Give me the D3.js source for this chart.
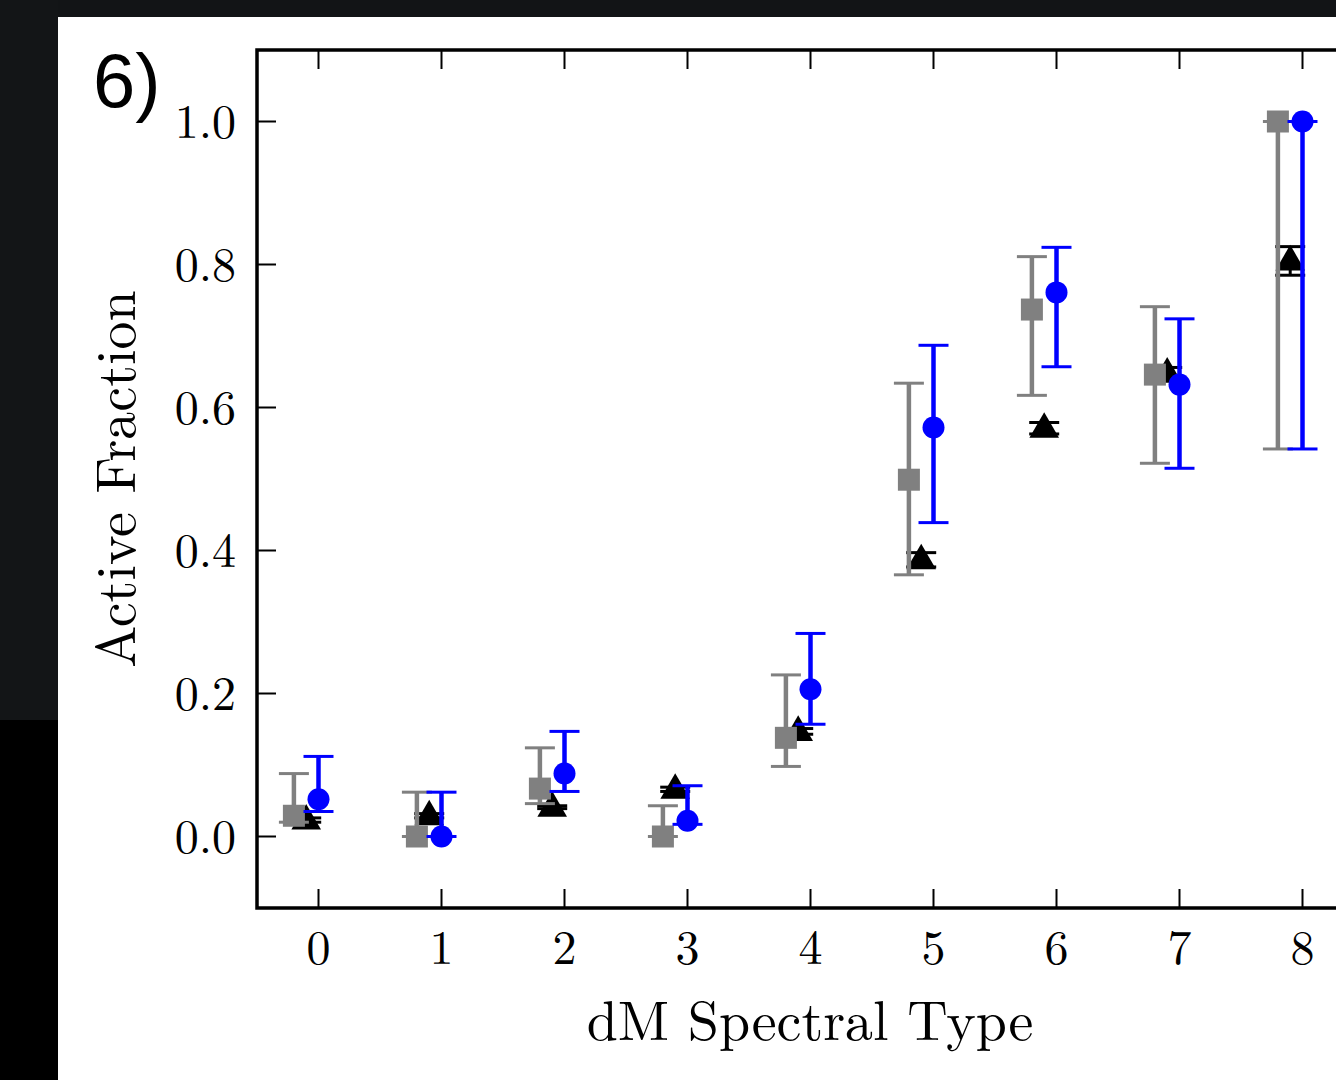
<!DOCTYPE html>
<html>
<head>
<meta charset="utf-8">
<script src="https://cdn.jsdelivr.net/npm/d3@7"></script>
<style>
  body { margin: 0; background: #000; }
  svg { display: block; }
  .tick-label { font-family: 'Latin Modern Roman', 'CMU Serif', 'Liberation Serif', serif; font-size: 48px; fill: #000; }
  .axis-title { font-family: 'Latin Modern Roman', 'CMU Serif', 'Liberation Serif', serif; font-size: 56px; fill: #000; }
</style>
</head>
<body>
<svg id="svg" width="1336" height="1080"></svg>
<script>
// spectral types (x) and tick labels
const types = [0, 1, 2, 3, 4, 5, 6, 7, 8]
const xTicks = [0, 1, 2, 3, 4, 5, 6, 7, 8]
const yTicks = [0.0, 0.2, 0.4, 0.6, 0.8, 1.0]

// gray squares
const grayVal = [0.029, 0.0, 0.067, 0.0, 0.138, 0.499, 0.737, 0.646, 1.0]
const grayLo = [0.020, 0.0, 0.046, 0.0, 0.098, 0.366, 0.617, 0.522, 0.542]
const grayHi = [0.088, 0.062, 0.124, 0.043, 0.226, 0.634, 0.811, 0.741, 1.0]

// blue circles
const blueVal = [0.052, 0.0, 0.088, 0.022, 0.206, 0.572, 0.761, 0.632, 1.0]
const blueLo = [0.035, 0.0, 0.063, 0.017, 0.157, 0.439, 0.657, 0.515, 0.542]
const blueHi = [0.112, 0.062, 0.147, 0.071, 0.284, 0.687, 0.824, 0.724, 1.0]

// black triangles
const blackVal = [0.023, 0.029, 0.041, 0.066, 0.147, 0.387, 0.571, 0.648, 0.805]
const blackErr = [0.003, 0.003, 0.002, 0.003, 0.004, 0.010, 0.008, 0.008, 0.020]

const svg = d3.select('svg')

// dark surroundings of the slide
svg.append('rect').attr('width', 1336).attr('height', 1080).attr('fill', '#000')
svg.append('rect').attr('width', 1336).attr('height', 17).attr('fill', '#121416')
svg.append('rect').attr('width', 58).attr('height', 720).attr('fill', '#131517')
svg.append('rect').attr('x', 58).attr('y', 17).attr('width', 1278).attr('height', 1063).attr('fill', '#fff')

const L = 257
const T = 50
const B = 908
const R = 1364

const x = d3.scaleLinear().domain([-0.5, 8.5]).range([L, R])
const y = d3.scaleLinear().domain([-0.1, 1.1]).range([B, T])

// panel label
svg.append('text')
  .attr('x', 93).attr('y', 107)
  .attr('font-family', 'Liberation Sans, Arial, sans-serif')
  .attr('font-size', 76)
  .text('6)')

// ticks (inside, on all sides)
const TL = 19
const g = svg.append('g')
xTicks.forEach(t => {
  g.append('line').attr('x1', x(t)).attr('x2', x(t)).attr('y1', B).attr('y2', B - TL).attr('stroke', '#000').attr('stroke-width', 2)
  g.append('line').attr('x1', x(t)).attr('x2', x(t)).attr('y1', T).attr('y2', T + TL).attr('stroke', '#000').attr('stroke-width', 2)
  g.append('text').attr('class', 'tick-label').attr('x', x(t)).attr('y', 964).attr('text-anchor', 'middle').text(t)
})
yTicks.forEach(t => {
  g.append('line').attr('x1', L).attr('x2', L + TL).attr('y1', y(t)).attr('y2', y(t)).attr('stroke', '#000').attr('stroke-width', 2)
  g.append('text').attr('class', 'tick-label').attr('x', 236).attr('y', y(t) + 16).attr('text-anchor', 'end').text(t.toFixed(1))
})

// frame
svg.append('path')
  .attr('d', `M${R},${T}H${L}V${B}H${R}`)
  .attr('fill', 'none').attr('stroke', '#000').attr('stroke-width', 3.5)

// error bars helper
function errBars (off, lo, hi, color, lw, cap) {
  const eg = svg.append('g').attr('stroke', color).attr('stroke-width', lw)
  types.forEach((t, i) => {
    const cx = x(t + off)
    eg.append('line').attr('x1', cx).attr('x2', cx).attr('y1', y(lo[i])).attr('y2', y(hi[i]))
    eg.append('line').attr('x1', cx - cap).attr('x2', cx + cap).attr('y1', y(lo[i])).attr('y2', y(lo[i])).attr('stroke-width', 3)
    eg.append('line').attr('x1', cx - cap).attr('x2', cx + cap).attr('y1', y(hi[i])).attr('y2', y(hi[i])).attr('stroke-width', 3)
  })
}

// triangles first
errBars(-0.1, blackVal.map((v, i) => v - blackErr[i]), blackVal.map((v, i) => v + blackErr[i]), '#000', 3, 15)
svg.append('g').selectAll('path').data(types).join('path')
  .attr('d', d3.symbol(d3.symbolTriangle, 380)())
  .attr('transform', (t, i) => `translate(${x(t - 0.1)},${y(blackVal[i]) + 1})`)
  .attr('fill', '#000')

// gray squares
errBars(-0.2, grayLo, grayHi, '#808080', 4.5, 15)
svg.append('g').selectAll('rect').data(types).join('rect')
  .attr('x', t => x(t - 0.2) - 11)
  .attr('y', (t, i) => y(grayVal[i]) - 11)
  .attr('width', 22).attr('height', 22)
  .attr('fill', '#808080')

// blue circles
errBars(0, blueLo, blueHi, '#0000ff', 4.5, 15)
svg.append('g').selectAll('circle').data(types).join('circle')
  .attr('cx', t => x(t))
  .attr('cy', (t, i) => y(blueVal[i]))
  .attr('r', 11)
  .attr('fill', '#0000ff')

// axis titles
svg.append('text').attr('class', 'axis-title')
  .attr('x', 810).attr('y', 1040).attr('text-anchor', 'middle')
  .text('dM Spectral Type')
svg.append('text').attr('class', 'axis-title')
  .attr('transform', 'translate(135,479) rotate(-90)')
  .attr('text-anchor', 'middle')
  .text('Active Fraction')
</script>
</body>
</html>
